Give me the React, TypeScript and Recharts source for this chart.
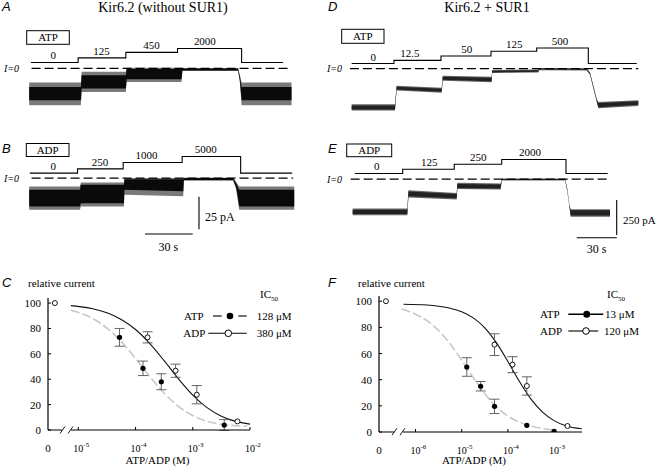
import React from 'react'
import {
  ComposedChart, Line, Area, Scatter, XAxis, YAxis, ReferenceLine, ErrorBar,
} from 'recharts'

const SERIF = '"Liberation Serif", Tinos, "Times New Roman", Times, "Nimbus Roman", "DejaVu Serif", serif'
const SANS = '"Liberation Sans", Arimo, Arial, "DejaVu Sans", sans-serif'

// ---------- current traces: t in s, current in pA (I=0 at 0) ----------
// env = outer noise band, core = dense part of the noise
const aTrace = [
  { t: 0, env: [-28.2, -10.8], core: [-24.4, -14.2] },
  { t: 32.5, env: [-28.2, -10.8], core: [-24.4, -14.2] },
  { t: 33.0, env: [-18, -2.6], core: [-15.4, -5.2] },
  { t: 60.8, env: [-18, -2.6], core: [-15.4, -5.2] },
  { t: 61.3, env: [-10.3, 0.5], core: [-8.2, -0.5] },
  { t: 95.8, env: [-10.3, 0.5], core: [-8.2, -0.5] },
  { t: 96.4, env: [-2, 0.2], core: [-1.5, 0] },
  { t: 131.4, env: [-2, 0.2], core: [-1.5, 0] },
  { t: 132.5, env: [-11, -5], core: [-9, -6] },
  { t: 133.6, env: [-28.2, -10.8], core: [-24.4, -14.2] },
  { t: 165, env: [-28.2, -10.8], core: [-24.4, -14.2] },
]
// solution protocol line (drawn above the trace) and the doses in µM
const aSteps = [
  { t: 1.1, v: 4.6 }, { t: 30.8, v: 8.1 }, { t: 60.8, v: 12.3 },
  { t: 93.3, v: 15.3 }, { t: 133.6, v: 4.6 }, { t: 159.7, v: 4.6 },
]
const aDoses = [
  { t: 15.1, v: 4.6, text: '0' }, { t: 45.5, v: 8.1, text: '125' },
  { t: 77, v: 12.3, text: '450' }, { t: 110.5, v: 15.3, text: '2000' },
]

const bTrace = [
  { t: 0, env: [-24.3, -6.4], core: [-21.8, -9] },
  { t: 31.9, env: [-24.3, -6.4], core: [-21.8, -9] },
  { t: 32.5, env: [-21.8, -3.4], core: [-19.2, -5.1] },
  { t: 59.6, env: [-21.8, -3.4], core: [-19.2, -5.1] },
  { t: 59.9, env: [-12.8, 0], core: [-9, -0.8] },
  { t: 96.9, env: [-14, 0], core: [-10, -0.8] },
  { t: 97.3, env: [-2, 0.2], core: [-1.5, 0] },
  { t: 128.3, env: [-2, 0.2], core: [-1.5, 0] },
  { t: 130.2, env: [-9, -3], core: [-7, -4] },
  { t: 132.1, env: [-24.3, -6.4], core: [-21.8, -9] },
  { t: 166.7, env: [-24.3, -6.4], core: [-21.8, -9] },
]
const bSteps = [
  { t: 0.4, v: 3.8 }, { t: 30.4, v: 7.1 }, { t: 59.1, v: 12.0 },
  { t: 96.2, v: 16.6 }, { t: 133, v: 3.8 }, { t: 165.4, v: 3.8 },
]
const bDoses = [
  { t: 15.1, v: 3.8, text: '0' }, { t: 44.5, v: 7.1, text: '250' },
  { t: 73.8, v: 12.0, text: '1000' }, { t: 111.1, v: 16.6, text: '5000' },
]

const dTrace = [
  { t: 0, env: [-300, -255], core: [-292, -263] },
  { t: 32.5, env: [-300, -255], core: [-292, -263] },
  { t: 33.7, env: [-157, -122], core: [-150, -129] },
  { t: 67.5, env: [-173, -137], core: [-166, -144] },
  { t: 68.3, env: [-86, -51], core: [-79, -58] },
  { t: 105, env: [-98, -58], core: [-90, -66] },
  { t: 105.4, env: [-32, -10], core: [-27, -15] },
  { t: 140, env: [-27, -6], core: [-22, -11] },
  { t: 140.5, env: [-11, 5], core: [-7, 1] },
  { t: 176.3, env: [-13, 3], core: [-9, -1] },
  { t: 178.8, env: [-45, -27], core: [-41, -31] },
  { t: 181.3, env: [-141, -121], core: [-136, -126] },
  { t: 183.8, env: [-236, -216], core: [-231, -221] },
  { t: 185, env: [-284, -238], core: [-276, -246] },
  { t: 215, env: [-267, -226], core: [-259, -234] },
]
const dSteps = [
  { t: 0, v: 36 }, { t: 31.7, v: 59 }, { t: 67, v: 90 }, { t: 104.5, v: 124 },
  { t: 138.8, v: 147 }, { t: 177.5, v: 36 }, { t: 213.8, v: 36 },
]
const dDoses = [
  { t: 16.2, v: 36, text: '0' }, { t: 43.7, v: 59, text: '12.5' },
  { t: 86.3, v: 90, text: '50' }, { t: 122, v: 124, text: '125' },
  { t: 156.3, v: 147, text: '500' },
]

const eTrace = [
  { t: 0, env: [-257, -209], core: [-248, -218] },
  { t: 41, env: [-257, -209], core: [-248, -218] },
  { t: 41.8, env: [-131, -79], core: [-122, -88] },
  { t: 78, env: [-145, -98], core: [-136, -106] },
  { t: 78.5, env: [-70, -26], core: [-62, -34] },
  { t: 111, env: [-74, -30], core: [-66, -38] },
  { t: 111.8, env: [-9, 5], core: [-5, 1] },
  { t: 159.3, env: [-9, 5], core: [-5, 1] },
  { t: 161, env: [-88, -70], core: [-84, -74] },
  { t: 162.5, env: [-195, -177], core: [-190, -182] },
  { t: 163.5, env: [-269, -214], core: [-260, -222] },
  { t: 193, env: [-269, -214], core: [-260, -222] },
]
const eSteps = [
  { t: 1.7, v: 41 }, { t: 37.5, v: 71 }, { t: 76.2, v: 107 },
  { t: 111.8, v: 141 }, { t: 160, v: 41 }, { t: 191.3, v: 41 },
]
const eDoses = [
  { t: 18, v: 41, text: '0' }, { t: 57.5, v: 71, text: '125' },
  { t: 94.2, v: 107, text: '250' }, { t: 133, v: 141, text: '2000' },
]

// ---------- dose-response: x = log10 [ATP/ADP] (M), y = relative current (%) ----------
const cAtpPts = [
  { x: -4.28, y: 73, e: 7 }, { x: -3.87, y: 48.6, e: 5.7 },
  { x: -3.55, y: 38, e: 6.3 }, { x: -2.45, y: 3.9, e: 4.3 },
]
const cAdpPts = [
  { x: -3.79, y: 73, e: 4.4 }, { x: -3.3, y: 46.7, e: 5.2 },
  { x: -2.93, y: 27.8, e: 7.2 }, { x: -2.22, y: 6.8, e: 0 },
]
const cZeroPts = [{ x: -5.41, y: 100, e: 0 }]
const cAtpFit = [
  { x: -5.13, y: 94.4 }, { x: -4.75, y: 87.9 }, { x: -4.5, y: 80.3 }, { x: -4.25, y: 69.6 },
  { x: -4, y: 56.3 }, { x: -3.75, y: 42 }, { x: -3.5, y: 29 }, { x: -3.25, y: 18.6 },
  { x: -3, y: 11.4 }, { x: -2.75, y: 6.8 }, { x: -2.5, y: 4.4 }, { x: -2.25, y: 3.4 },
  { x: -2.05, y: 3 },
]
const cAdpFit = [
  { x: -5.13, y: 98 }, { x: -4.75, y: 95.5 }, { x: -4.5, y: 92.3 }, { x: -4.25, y: 87.1 },
  { x: -4, y: 79.2 }, { x: -3.75, y: 68.1 }, { x: -3.5, y: 54.6 }, { x: -3.25, y: 40.3 },
  { x: -3, y: 27.5 }, { x: -2.75, y: 17.6 }, { x: -2.5, y: 10.9 }, { x: -2.25, y: 6.8 },
  { x: -2.0, y: 4.6 },
]

const fAtpPts = [
  { x: -4.89, y: 49.7, e: 7.1 }, { x: -4.59, y: 35, e: 3.6 }, { x: -4.29, y: 19.6, e: 5.5 },
  { x: -3.59, y: 5.1, e: 0 }, { x: -3.0, y: 0.5, e: 0 },
]
const fAdpPts = [
  { x: -4.29, y: 66.8, e: 8.3 }, { x: -3.9, y: 51.5, e: 6.1 },
  { x: -3.59, y: 35.2, e: 7 }, { x: -2.71, y: 4.6, e: 0 },
]
const fZeroPts = [{ x: -6.64, y: 100, e: 0 }]
const fAtpFit = [
  { x: -6.3, y: 94 }, { x: -6, y: 90.1 }, { x: -5.75, y: 85.1 }, { x: -5.5, y: 77.6 },
  { x: -5.25, y: 67.4 }, { x: -5, y: 54.9 }, { x: -4.75, y: 41.6 }, { x: -4.5, y: 29.3 },
  { x: -4.25, y: 19.4 }, { x: -4, y: 12.2 }, { x: -3.75, y: 7.5 }, { x: -3.5, y: 4.5 },
  { x: -3.25, y: 2.6 }, { x: -2.95, y: 1.4 },
]
const fAdpFit = [
  { x: -6.26, y: 97.7 }, { x: -5.75, y: 97.1 }, { x: -5.5, y: 96.2 }, { x: -5.25, y: 94.7 },
  { x: -5, y: 92 }, { x: -4.75, y: 87.3 }, { x: -4.5, y: 79.7 }, { x: -4.25, y: 68.3 },
  { x: -4, y: 53.9 }, { x: -3.75, y: 38.6 }, { x: -3.5, y: 25.1 }, { x: -3.25, y: 15.2 },
  { x: -3, y: 8.7 }, { x: -2.75, y: 4.8 }, { x: -2.4, y: 2.5 },
]

const yTicks = [0, 20, 40, 60, 80, 100]

const DoseLabel = (p: any) => (
  <text x={p.cx} y={p.cy - 3} textAnchor="middle" fontSize={11} style={{ fontFamily: SERIF }} fill="#000">
    {p.payload.text}
  </text>
)

function TraceChart({ box, tDomain, iDomain, zero, trace, steps, doses, tones }: any) {
  const [left, top, width, height] = box
  return (
    <div style={{ position: 'absolute', left, top }}>
      <ComposedChart width={width} height={height} data={trace} margin={{ top: 0, right: 0, bottom: 0, left: 0 }}>
        <XAxis type="number" dataKey="t" domain={tDomain} hide allowDataOverflow />
        <YAxis type="number" domain={iDomain} hide allowDataOverflow />
        <Area dataKey="env" type="linear" stroke="none" fill={tones[0]} fillOpacity={1} isAnimationActive={false} />
        <Area dataKey="core" type="linear" stroke="none" fill={tones[1]} fillOpacity={1} isAnimationActive={false} />
        <ReferenceLine
          segment={[{ x: zero[0], y: 0 }, { x: zero[1], y: 0 }]}
          stroke="#000" strokeWidth={1.2} strokeDasharray="9 4" ifOverflow="visible"
        />
        <Line data={steps} dataKey="v" type="stepAfter" stroke="#000" strokeWidth={1.1} dot={false} isAnimationActive={false} />
        <Scatter data={doses} dataKey="v" shape={DoseLabel} isAnimationActive={false} />
      </ComposedChart>
    </div>
  )
}

const YTick = (p: any) => (
  <g>
    <line x1={p.x} x2={p.x + 3} y1={p.y} y2={p.y} stroke="#000" strokeWidth={1} />
    <text x={p.x - 7} y={p.y + 4} textAnchor="end" fontSize={11} style={{ fontFamily: SERIF }} fill="#000">
      {p.payload.value}
    </text>
  </g>
)

const LogTick = (p: any) => {
  const v = p.payload.value
  if (v === p.first) {
    return (
      <text x={p.x} y={p.y + 21.5} textAnchor="middle" fontSize={11} style={{ fontFamily: SERIF }} fill="#000">0</text>
    )
  }
  return (
    <g>
      <line x1={p.x} x2={p.x} y1={p.y} y2={p.y - 3} stroke="#000" strokeWidth={1} />
      <text x={p.x - 5} y={p.y + 21.5} textAnchor="start" fontSize={10} style={{ fontFamily: SERIF }} fill="#000">
        10<tspan dy={-4.5} fontSize={7}>{v}</tspan>
      </text>
    </g>
  )
}

const FilledDot = (p: any) => <circle cx={p.cx} cy={p.cy} r={2.6} fill="#000" />
const OpenDot = (p: any) => <circle cx={p.cx} cy={p.cy} r={2.5} fill="#fff" stroke="#000" strokeWidth={0.9} />

function DoseChart({ plot, xDomain, xTicks, atpFit, adpFit, atpPts, adpPts, zeroPts }: any) {
  const [pl, pt, pw, ph] = plot
  return (
    <div style={{ position: 'absolute', left: pl - 40, top: pt - 4 }}>
      <ComposedChart width={pw + 56} height={ph + 34} margin={{ top: 4, right: 16, bottom: 0, left: 0 }}>
        <XAxis
          type="number" dataKey="x" domain={xDomain} ticks={xTicks} interval={0} allowDataOverflow
          height={30} tickSize={0} tickMargin={0} tickLine={false}
          axisLine={{ stroke: '#000', strokeWidth: 1.2 }}
          tick={(p: any) => <LogTick {...p} first={xDomain[0]} />}
        />
        <YAxis
          type="number" domain={[0, 104]} ticks={yTicks} interval={0} allowDataOverflow
          width={40} tickSize={0} tickMargin={0} tickLine={false}
          axisLine={{ stroke: '#000', strokeWidth: 1.2 }} tick={YTick}
        />
        <Line data={atpFit} dataKey="y" type="monotone" stroke="#c8c8c8" strokeWidth={1.6} strokeDasharray="9 3" dot={false} isAnimationActive={false} />
        <Line data={adpFit} dataKey="y" type="monotone" stroke="#111" strokeWidth={1.1} dot={false} isAnimationActive={false} />
        <Scatter data={atpPts} dataKey="y" shape={FilledDot} isAnimationActive={false}>
          <ErrorBar dataKey="e" direction="y" width={5} stroke="#555" strokeWidth={0.9} />
        </Scatter>
        <Scatter data={adpPts} dataKey="y" shape={OpenDot} isAnimationActive={false}>
          <ErrorBar dataKey="e" direction="y" width={5} stroke="#555" strokeWidth={0.9} />
        </Scatter>
        <Scatter data={zeroPts} dataKey="y" shape={OpenDot} isAnimationActive={false} />
      </ComposedChart>
    </div>
  )
}

const T = ({ children, style, ...rest }: any) => (
  <text fontSize={11} fill="#000" {...rest} style={{ fontFamily: SERIF, ...style }}>{children}</text>
)
const Letter = ({ x, y, c }: any) => (
  <text x={x} y={y} fontStyle="italic" fontSize={13} fill="#000" style={{ fontFamily: SANS }}>{c}</text>
)
const Box = ({ x, y, w, h, label }: any) => (
  <g>
    <rect x={x} y={y} width={w} height={h} fill="none" stroke="#000" strokeWidth={1} />
    <T x={x + w / 2} y={y + h - 3} textAnchor="middle">{label}</T>
  </g>
)
const Izero = ({ x, y, anchor }: any) => (
  <T x={x} y={y} fontStyle="italic" fontSize={10} textAnchor={anchor || 'start'}>I=0</T>
)
const Break = ({ x, y }: any) => (
  <g>
    <rect x={x} y={y - 2} width={9} height={4} fill="#fff" />
    <line x1={x - 2} y1={y + 3.5} x2={x + 3} y2={y - 3.5} stroke="#000" strokeWidth={0.9} />
    <line x1={x + 6} y1={y + 3.5} x2={x + 11} y2={y - 3.5} stroke="#000" strokeWidth={0.9} />
  </g>
)

function Overlay() {
  return (
    <svg width={657} height={468} style={{ position: 'absolute', left: 0, top: 0, pointerEvents: 'none' }}>
      <T x={163} y={11.5} fontSize={14} textAnchor="middle">Kir6.2 (without SUR1)</T>
      <T x={487} y={11.5} fontSize={14} textAnchor="middle">Kir6.2 + SUR1</T>
      <Letter x={2} y={10.5} c="A" />
      <Letter x={2} y={153} c="B" />
      <Letter x={2} y={287} c="C" />
      <Letter x={328} y={10.5} c="D" />
      <Letter x={328} y={153} c="E" />
      <Letter x={328} y={287} c="F" />

      <Box x={26.7} y={30.7} w={42.6} h={13.6} label="ATP" />
      <Box x={26.3} y={143.5} w={42.7} h={13} label="ADP" />
      <Box x={341.7} y={29.3} w={42.3} h={14} label="ATP" />
      <Box x={346.7} y={144} w={45} h={12.7} label="ADP" />

      <Izero x={4} y={72} />
      <Izero x={4} y={182} />
      <Izero x={342} y={72} anchor="end" />
      <Izero x={342} y={183} anchor="end" />

      {/* scale bars */}
      <line x1={199} x2={199} y1={196.7} y2={229.3} stroke="#000" strokeWidth={1.1} />
      <T x={205} y={221} fontSize={12}>25 pA</T>
      <line x1={145} x2={192.7} y1={234} y2={234} stroke="#000" strokeWidth={1.1} />
      <T x={168.3} y={251} fontSize={12} textAnchor="middle">30 s</T>
      <line x1={616.7} x2={616.7} y1={200} y2={235} stroke="#000" strokeWidth={1.1} />
      <T x={623} y={224} fontSize={11}>250 pA</T>
      <line x1={576.7} x2={616.7} y1={237.7} y2={237.7} stroke="#000" strokeWidth={1.1} />
      <T x={596.7} y={253} fontSize={12} textAnchor="middle">30 s</T>

      {/* C labels and legend */}
      <T x={28} y={286.5}>relative current</T>
      <T x={157.5} y={464} textAnchor="middle">ATP/ADP (M)</T>
      <T x={260} y={298}>IC<tspan dy={2.5} fontSize={7}>50</tspan></T>
      <T x={184} y={320}>ATP</T>
      <line x1={213} x2={221.7} y1={316} y2={316} stroke="#000" strokeWidth={1.1} />
      <line x1={238.3} x2={246.7} y1={316} y2={316} stroke="#000" strokeWidth={1.1} />
      <circle cx={230} cy={316} r={3.3} fill="#000" />
      <T x={256.7} y={320}>128 μM</T>
      <T x={183.3} y={337}>ADP</T>
      <line x1={208.3} x2={246.7} y1={333.3} y2={333.3} stroke="#000" strokeWidth={1.1} />
      <circle cx={228.3} cy={333.3} r={3.3} fill="#fff" stroke="#000" strokeWidth={1} />
      <T x={256.7} y={337}>380 μM</T>
      <Break x={62} y={430} />

      {/* F labels and legend */}
      <T x={358} y={286.5}>relative current</T>
      <T x={474} y={464} textAnchor="middle">ATP/ADP (M)</T>
      <T x={607} y={298}>IC<tspan dy={2.5} fontSize={7}>50</tspan></T>
      <T x={540} y={318}>ATP</T>
      <line x1={568.3} x2={603.3} y1={314.3} y2={314.3} stroke="#000" strokeWidth={1.4} />
      <circle cx={586.7} cy={314.3} r={3.5} fill="#000" />
      <T x={605} y={318}>13 μM</T>
      <T x={540} y={335}>ADP</T>
      <line x1={568.3} x2={598.3} y1={331} y2={331} stroke="#000" strokeWidth={1.1} />
      <circle cx={586} cy={331} r={3.3} fill="#fff" stroke="#000" strokeWidth={1} />
      <T x={604} y={335}>120 μM</T>
      <Break x={394} y={431.7} />
    </svg>
  )
}

export default function App() {
  return (
    <div style={{ position: 'absolute', left: 0, top: 0, width: 657, height: 468, background: '#fff', overflow: 'hidden', fontFamily: SERIF }}>
      <TraceChart box={[26.1, 27.9, 270.3, 84.8]} tDomain={[-2, 168]} iDomain={[-34, 31]} zero={[1.5, 163.5]}
        trace={aTrace} steps={aSteps} doses={aDoses} tones={['#7a7a7a', '#0a0a0a']} />
      <TraceChart box={[26.1, 139.2, 270.3, 73.0]} tDomain={[-2, 168]} iDomain={[-26, 30]} zero={[1.5, 166]}
        trace={bTrace} steps={bSteps} doses={bDoses} tones={['#7a7a7a', '#0a0a0a']} />
      <TraceChart box={[349.0, 27.7, 293.3, 87.5]} tDomain={[-2, 218]} iDomain={[-335, 290]} zero={[-1.3, 215]}
        trace={dTrace} steps={dSteps} doses={dDoses} tones={['#666', '#222']} />
      <TraceChart box={[350.0, 139.8, 264, 82.6]} tDomain={[-2, 196]} iDomain={[-310, 280]} zero={[-1.5, 190.5]}
        trace={eTrace} steps={eSteps} doses={eDoses} tones={['#666', '#222']} />

      <DoseChart plot={[48, 298, 202, 132]} xDomain={[-5.53, -2.0]} xTicks={[-5.53, -5, -4, -3, -2]}
        atpFit={cAtpFit} adpFit={cAdpFit} atpPts={cAtpPts} adpPts={cAdpPts} zeroPts={cZeroPts} />
      <DoseChart plot={[379, 296, 203, 136]} xDomain={[-6.79, -2.396]} xTicks={[-6.79, -6, -5, -4, -3]}
        atpFit={fAtpFit} adpFit={fAdpFit} atpPts={fAtpPts} adpPts={fAdpPts} zeroPts={fZeroPts} />

      <Overlay />
    </div>
  )
}
